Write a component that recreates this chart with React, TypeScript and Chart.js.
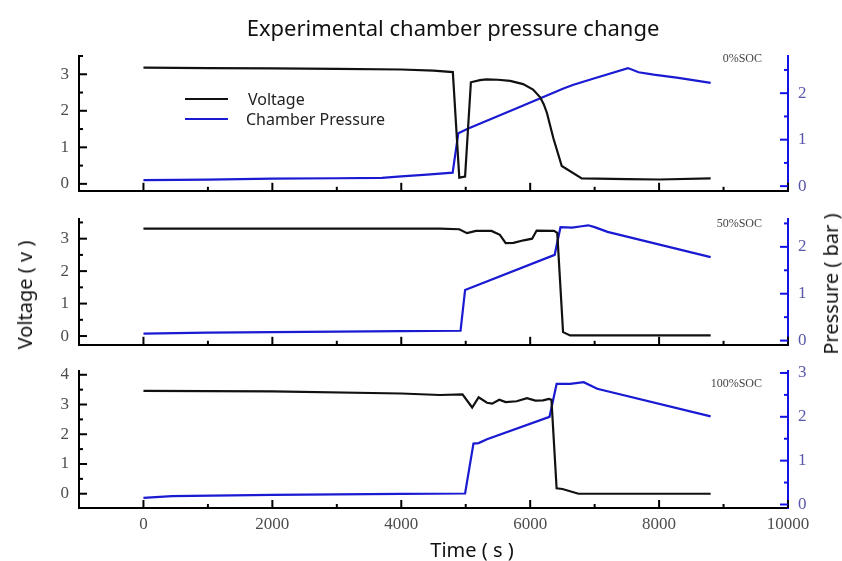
import React, { useEffect, useRef } from 'react';
import { Chart, registerables } from 'chart.js';

Chart.register(...registerables);

// ---------- data ----------
const xTickValues = [0, 2000, 4000, 6000, 8000, 10000];
const xMinorValues = [1000, 3000, 5000, 7000, 9000];

// 0%SOC
const topVoltageTime = [0, 1000, 2000, 3000, 4000, 4500, 4800, 4900, 4990, 5080, 5220, 5320, 5500, 5690, 5890, 6045, 6155, 6210, 6260, 6360, 6490, 6800, 7500, 8000, 8800];
const topVoltage = [3.18, 3.17, 3.16, 3.15, 3.13, 3.1, 3.06, 0.17, 0.2, 2.78, 2.84, 2.86, 2.85, 2.82, 2.73, 2.58, 2.37, 2.18, 1.94, 1.25, 0.49, 0.15, 0.13, 0.12, 0.15];
const topPressureTime = [0, 1000, 2000, 3000, 3700, 4000, 4400, 4797, 4885, 5040, 5800, 6516, 6672, 7000, 7517, 7682, 7915, 8300, 8800];
const topPressure = [0.13, 0.14, 0.16, 0.17, 0.18, 0.21, 0.25, 0.29, 1.14, 1.24, 1.68, 2.1, 2.18, 2.32, 2.54, 2.45, 2.4, 2.33, 2.22];

// 50%SOC
const midVoltageTime = [0, 2000, 4000, 4600, 4900, 5020, 5160, 5400, 5530, 5620, 5740, 5900, 6030, 6100, 6370, 6420, 6510, 6620, 8800];
const midVoltage = [3.31, 3.31, 3.31, 3.31, 3.29, 3.17, 3.24, 3.24, 3.12, 2.86, 2.87, 2.95, 3.0, 3.25, 3.24, 3.18, 0.12, 0.02, 0.02];
const midPressureTime = [0, 1000, 2000, 3000, 4000, 4920, 4990, 6380, 6470, 6650, 6800, 6900, 7000, 7200, 8800];
const midPressure = [0.15, 0.17, 0.18, 0.19, 0.2, 0.21, 1.08, 1.83, 2.42, 2.41, 2.44, 2.46, 2.42, 2.32, 1.78];

// 100%SOC
const botVoltageTime = [0, 2000, 4000, 4600, 4950, 5100, 5200, 5330, 5410, 5520, 5620, 5790, 5950, 6080, 6200, 6290, 6330, 6410, 6500, 6750, 8800];
const botVoltage = [3.46, 3.44, 3.37, 3.32, 3.34, 2.9, 3.24, 3.06, 3.03, 3.16, 3.08, 3.11, 3.21, 3.13, 3.14, 3.19, 3.16, 0.18, 0.16, 0.0, 0.0];
const botPressureTime = [0, 440, 2000, 4000, 4990, 5120, 5200, 5330, 6300, 6410, 6620, 6830, 7040, 8800];
const botPressure = [0.15, 0.19, 0.22, 0.24, 0.25, 1.39, 1.4, 1.49, 2.0, 2.75, 2.75, 2.79, 2.64, 2.01];

const voltageTicks3 = [0, 1, 2, 3];
const voltageMinor3 = [0.5, 1.5, 2.5, 3.5];
const voltageTicks4 = [0, 1, 2, 3, 4];
const voltageMinor4 = [0.5, 1.5, 2.5, 3.5];
const pressureTicks2 = [0, 1, 2];
const pressureTicks3 = [0, 1, 2, 3];
const pressureMinor = [0.5, 1.5, 2.5];

const socLabels = ['0%SOC', '50%SOC', '100%SOC'];

// ---------- styling ----------
const VOLT_COLOR = '#111111';
const PRESS_COLOR = '#1a1ad2';
const RIGHT_AXIS_COLOR = '#1212e6';
const SERIF = '"Liberation Serif", "Times New Roman", serif';
const SANS = '"Noto Sans", "Open Sans", sans-serif';

const innerTicks = {
  id: 'innerTicks',
  afterDatasetsDraw(chart: any, _args: any, opts: any) {
    const { ctx, chartArea } = chart;
    const x = chart.scales.x;
    const y = chart.scales.y;
    const y1 = chart.scales.y1;
    ctx.save();
    ctx.lineWidth = 2;
    const line = (x0: number, y0: number, x2: number, y2: number) => {
      ctx.beginPath();
      ctx.moveTo(x0, y0);
      ctx.lineTo(x2, y2);
      ctx.stroke();
    };
    ctx.strokeStyle = '#000';
    (opts.xMajor || []).forEach((v: number) => { const px = x.getPixelForValue(v); line(px, chartArea.bottom, px, chartArea.bottom - 8); });
    (opts.xMinor || []).forEach((v: number) => { const px = x.getPixelForValue(v); line(px, chartArea.bottom, px, chartArea.bottom - 4); });
    (opts.yMajor || []).forEach((v: number) => { const py = y.getPixelForValue(v); line(chartArea.left, py, chartArea.left + 8, py); });
    (opts.yMinor || []).forEach((v: number) => { const py = y.getPixelForValue(v); line(chartArea.left, py, chartArea.left + 4, py); });
    ctx.strokeStyle = RIGHT_AXIS_COLOR;
    (opts.rMajor || []).forEach((v: number) => { const py = y1.getPixelForValue(v); line(chartArea.right, py, chartArea.right - 8, py); });
    (opts.rMinor || []).forEach((v: number) => { const py = y1.getPixelForValue(v); line(chartArea.right, py, chartArea.right - 4, py); });
    ctx.restore();
  },
};

type PanelProps = {
  top: number;
  height: number;
  padTop: number;
  xHeight: number;
  showX: boolean;
  vTime: number[];
  v: number[];
  pTime: number[];
  p: number[];
  vMin: number;
  vMax: number;
  pMin: number;
  pMax: number;
  vTicks: number[];
  vMinor: number[];
  pTicks: number[];
  pMinor: number[];
};

function Panel(props: PanelProps) {
  const ref = useRef<HTMLCanvasElement | null>(null);
  useEffect(() => {
    if (!ref.current) return;
    const {
      padTop, xHeight, showX, vTime, v, pTime, p, vMin, vMax, pMin, pMax, vTicks, vMinor, pTicks, pMinor,
    } = props;
    const chart = new Chart(ref.current, {
      type: 'line',
      data: {
        datasets: [
          {
            label: 'Voltage',
            data: vTime.map((t, i) => ({ x: t, y: v[i] })),
            borderColor: VOLT_COLOR,
            backgroundColor: VOLT_COLOR,
            borderWidth: 2.2,
            pointRadius: 0,
            tension: 0,
            yAxisID: 'y',
          },
          {
            label: 'Chamber Pressure',
            data: pTime.map((t, i) => ({ x: t, y: p[i] })),
            borderColor: PRESS_COLOR,
            backgroundColor: PRESS_COLOR,
            borderWidth: 2.2,
            pointRadius: 0,
            tension: 0,
            yAxisID: 'y1',
          },
        ],
      },
      options: {
        responsive: false,
        maintainAspectRatio: false,
        animation: false,
        layout: { padding: { top: padTop, left: 0, right: 0, bottom: 0 } },
        plugins: {
          legend: { display: false },
          title: { display: false },
          tooltip: { enabled: false },
          innerTicks: {
            xMajor: xTickValues,
            xMinor: xMinorValues,
            yMajor: vTicks,
            yMinor: vMinor,
            rMajor: pTicks,
            rMinor: pMinor,
          },
        } as any,
        scales: {
          x: {
            type: 'linear',
            position: 'bottom',
            min: -1000,
            max: 10000,
            afterBuildTicks: (s: any) => { s.ticks = xTickValues.map((val) => ({ value: val })); },
            afterFit: (s: any) => { s.height = xHeight; },
            grid: { display: false, drawTicks: false },
            border: { display: true, color: '#000', width: 2 },
            ticks: {
              display: showX,
              padding: 6,
              color: '#4d4d4d',
              font: { family: SERIF, size: 17 },
              maxRotation: 0,
              autoSkip: false,
              callback: (val: any) => String(val),
            },
          },
          y: {
            type: 'linear',
            position: 'left',
            min: vMin,
            max: vMax,
            afterBuildTicks: (s: any) => { s.ticks = vTicks.map((val) => ({ value: val })); },
            afterFit: (s: any) => { s.width = 79; },
            grid: { display: false, drawTicks: false },
            border: { display: true, color: '#000', width: 2 },
            ticks: {
              padding: 10,
              color: '#4d4d4d',
              font: { family: SERIF, size: 17 },
              callback: (val: any) => String(val),
            },
          },
          y1: {
            type: 'linear',
            position: 'right',
            min: pMin,
            max: pMax,
            afterBuildTicks: (s: any) => { s.ticks = pTicks.map((val) => ({ value: val })); },
            afterFit: (s: any) => { s.width = 54; },
            grid: { display: false, drawTicks: false },
            border: { display: true, color: RIGHT_AXIS_COLOR, width: 2 },
            ticks: {
              padding: 10,
              color: '#5858aa',
              font: { family: SERIF, size: 17 },
              callback: (val: any) => String(val),
            },
          },
        },
      } as any,
      plugins: [innerTicks as any],
    });
    return () => chart.destroy();
  }, []);
  return (
    <canvas
      ref={ref}
      width={842}
      height={props.height}
      style={{ position: 'absolute', left: 0, top: props.top, width: 842, height: props.height }}
    />
  );
}

const textBase: React.CSSProperties = {
  position: 'absolute',
  whiteSpace: 'nowrap',
  lineHeight: 1,
};

export default function App() {
  return (
    <div style={{ position: 'absolute', left: 0, top: 0, width: 842, height: 561, background: '#fff', overflow: 'hidden' }}>
      <Panel top={0} height={211} padTop={56} xHeight={12} showX={false}
        vTime={topVoltageTime} v={topVoltage} pTime={topPressureTime} p={topPressure}
        vMin={-0.19} vMax={3.5} pMin={-0.1} pMax={2.8}
        vTicks={voltageTicks3} vMinor={voltageMinor3} pTicks={pressureTicks2} pMinor={pressureMinor} />
      <Panel top={199} height={166} padTop={12} xHeight={12} showX={false}
        vTime={midVoltageTime} v={midVoltage} pTime={midPressureTime} p={midPressure}
        vMin={-0.27} vMax={3.6} pMin={-0.09} pMax={2.59}
        vTicks={voltageTicks3} vMinor={voltageMinor3} pTicks={pressureTicks2} pMinor={pressureMinor} />
      <Panel top={351} height={210} padTop={12} xHeight={53} showX={true}
        vTime={botVoltageTime} v={botVoltage} pTime={botPressureTime} p={botPressure}
        vMin={-0.48} vMax={4.12} pMin={-0.08} pMax={3.04}
        vTicks={voltageTicks4} vMinor={voltageMinor4} pTicks={pressureTicks3} pMinor={pressureMinor} />

      <div style={{ ...textBase, left: 453, top: 27, transform: 'translate(-50%, -50%)', fontFamily: SANS, fontSize: 22, color: '#111' }}>
        Experimental chamber pressure change
      </div>
      <div style={{ ...textBase, left: 25, top: 295, transform: 'translate(-50%, -50%) rotate(-90deg)', fontFamily: SANS, fontSize: 20, color: '#111' }}>
        Voltage ( v )
      </div>
      <div style={{ ...textBase, left: 831, top: 284, transform: 'translate(-50%, -50%) rotate(-90deg)', fontFamily: SANS, fontSize: 20, color: '#111' }}>
        Pressure ( bar )
      </div>
      <div style={{ ...textBase, left: 472, top: 550, transform: 'translate(-50%, -50%)', fontFamily: SANS, fontSize: 20, color: '#111' }}>
        Time ( s )
      </div>

      {socLabels.map((s, i) => (
        <div key={s} style={{ ...textBase, right: 842 - 762, top: [58, 223, 383][i], transform: 'translateY(-50%)', fontFamily: SERIF, fontSize: 12, color: '#444' }}>
          {s}
        </div>
      ))}

      <div style={{ position: 'absolute', left: 185, top: 98, width: 43, height: 2, background: VOLT_COLOR }} />
      <div style={{ position: 'absolute', left: 185, top: 118, width: 43, height: 2, background: PRESS_COLOR }} />
      <div style={{ ...textBase, left: 248, top: 99, transform: 'translateY(-50%)', fontFamily: SANS, fontSize: 16, color: '#222' }}>
        Voltage
      </div>
      <div style={{ ...textBase, left: 246, top: 119, transform: 'translateY(-50%)', fontFamily: SANS, fontSize: 16, color: '#222' }}>
        Chamber Pressure
      </div>
    </div>
  );
}
